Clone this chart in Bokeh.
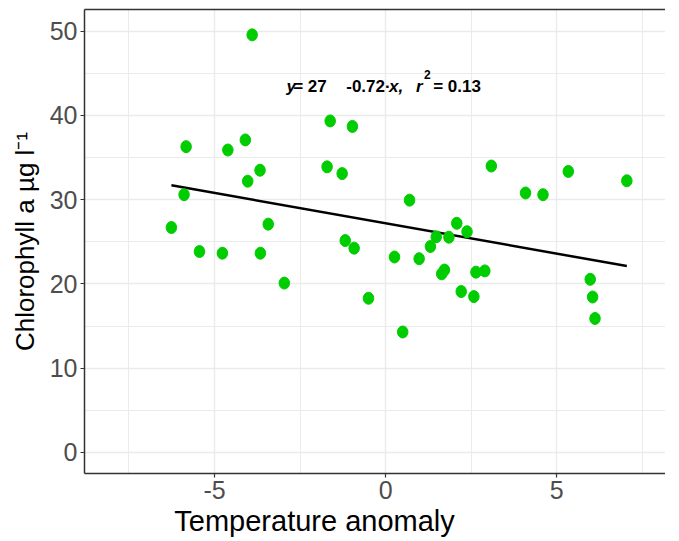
from bokeh.plotting import figure
from bokeh.models import Range1d, Label, LinearAxis, FixedTicker, ColumnDataSource
from bokeh.embed import file_html
from bokeh.resources import INLINE
import numpy as np

# ---- data ----
temp_anomaly = [-3.90, -5.83, -4.61, -4.10, -3.67, -4.03, -5.89, -6.26, -3.43,
                -5.44, -4.77, -3.66, -1.62, -0.97, -1.71, -1.27, -1.18, -0.92,
                -2.96, -0.50, 0.50, 3.09, 5.34, 7.05, 4.09, 4.60, 0.70, 2.08,
                2.38, 1.48, 1.85, 1.31, 0.26, 0.98, 1.72, 1.64, 2.64, 2.90,
                2.21, 2.58, 5.98, 6.05, 6.12]
chlorophyll = [49.57, 36.3, 35.9, 37.1, 33.5, 32.2, 30.6, 26.7, 27.1,
               23.85, 23.65, 23.65, 39.35, 38.7, 33.9, 33.1, 25.15, 24.25,
               20.1, 18.3, 14.3, 34.0, 33.36, 32.25, 30.8, 30.6, 29.95, 27.2,
               26.2, 25.6, 25.55, 24.45, 23.2, 23.0, 21.65, 21.2, 21.4, 21.55,
               19.1, 18.5, 20.55, 18.45, 15.9]
fit_intercept = 27.2
fit_slope = -0.72
x_ticks = [-5, 0, 5]
x_minor = [-7.5, -2.5, 2.5, 7.5]
y_ticks = [0, 10, 20, 30, 40, 50]
y_minor = [5, 15, 25, 35, 45]

FONT = "Liberation Sans"

p = figure(width=665, height=539, output_backend="svg", toolbar_location=None,
           x_range=Range1d(-8.80, 8.18), y_range=Range1d(-2.5, 52.58),
           min_border_left=84, min_border_right=0, min_border_top=9,
           min_border_bottom=0)
p.background_fill_color = "white"
p.border_fill_color = "white"
p.outline_line_color = None

# axes
p.xaxis.ticker = FixedTicker(ticks=x_ticks, minor_ticks=x_minor)
p.yaxis.ticker = FixedTicker(ticks=y_ticks, minor_ticks=y_minor)
p.xaxis.major_label_overrides = {t: str(t) for t in x_ticks}
for ax in (p.xaxis, p.yaxis):
    ax.axis_line_color = "#333333"
    ax.axis_line_width = 1.5
    ax.major_tick_line_color = "#333333"
    ax.major_tick_line_width = 1.2
    ax.major_tick_out = 4
    ax.major_tick_in = 0
    ax.minor_tick_line_color = None
    ax.major_label_text_font = FONT
    ax.major_label_text_font_size = "25px"
    ax.major_label_text_color = "#4D4D4D"
    ax.major_label_standoff = 3

p.yaxis.axis_label = "Chlorophyll a µg l⁻¹"
p.yaxis.axis_label_text_font = FONT
p.yaxis.axis_label_text_font_size = "26px"
p.yaxis.axis_label_text_font_style = "normal"
p.yaxis.axis_label_text_color = "black"
p.yaxis.axis_label_standoff = 7

# x title (trailing no-break spaces shift its centre to the left like the reference)
p.xaxis.axis_label = "Temperature anomaly" + "\u00a0" * 15
p.xaxis.axis_label_text_font = FONT
p.xaxis.axis_label_text_font_size = "29px"
p.xaxis.axis_label_text_font_style = "normal"
p.xaxis.axis_label_text_color = "black"
p.xaxis.axis_label_standoff = 3

top = LinearAxis(ticker=FixedTicker(ticks=[]), major_tick_line_color=None,
                 minor_tick_line_color=None, axis_line_color="#333333",
                 axis_line_width=1.5, major_label_standoff=0)
p.add_layout(top, "above")

# grid
for g in (p.xgrid, p.ygrid):
    g.grid_line_color = "#EBEBEB"
    g.grid_line_width = 1.4
    g.minor_grid_line_color = "#EBEBEB"
    g.minor_grid_line_width = 1.0

# regression line across the data range
xs = np.array([min(temp_anomaly), max(temp_anomaly)])
p.line(xs, fit_intercept + fit_slope * xs, line_color="black", line_width=2.5)

src = ColumnDataSource(dict(x=temp_anomaly, y=chlorophyll))
p.ellipse(x="x", y="y", width=10.5, height=12, width_units="screen",
          height_units="screen", source=src, fill_color="#00CD00",
          line_color="#00CD00")

# equation annotation
eq_y = 43.39
pieces = [("y", -2.90, "bold italic", "17px", eq_y),
          ("= 27", -2.70, "bold", "17px", eq_y),
          ("-0.72·", -1.15, "bold", "17px", eq_y),
          ("x,", 0.10, "bold italic", "17px", eq_y),
          ("r", 0.89, "bold italic", "17px", eq_y),
          ("2", 1.12, "bold", "12px", 44.9),
          ("= 0.13", 1.39, "bold", "17px", eq_y)]
for txt, xx, style, size, yy in pieces:
    p.add_layout(Label(x=xx, y=yy, text=txt, text_font=FONT,
                       text_font_style=style, text_font_size=size,
                       text_align="left", text_baseline="alphabetic",
                       text_color="black"))

open("out.html", "w").write(file_html(p, INLINE))
